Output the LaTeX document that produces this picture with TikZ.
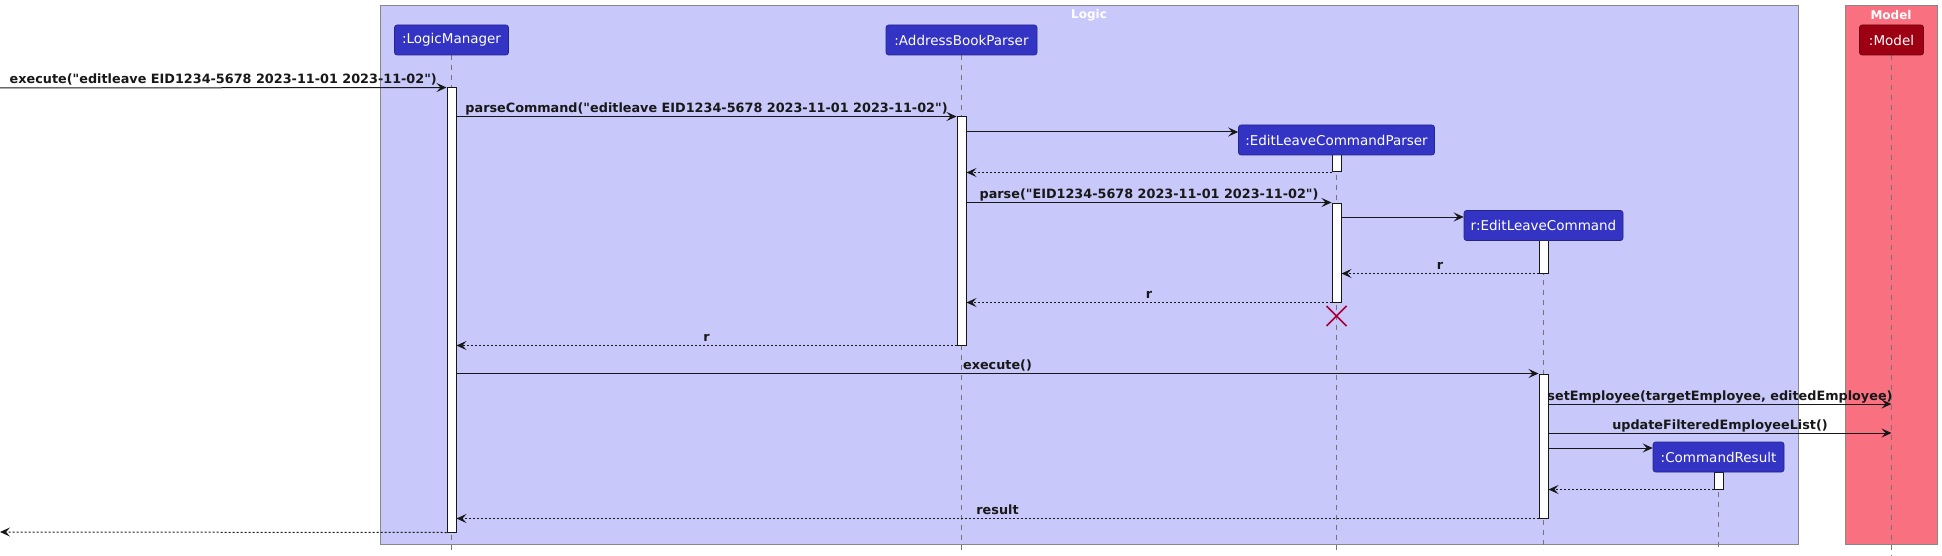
\documentclass[tikz,border=0pt]{standalone}
\usepackage{fontspec}
\setmainfont{DejaVu Sans}[Ligatures=TeXOff]
\usetikzlibrary{arrows.meta}
\definecolor{logicC}{HTML}{3333C4}
\definecolor{logicT}{HTML}{C8C8FA}
\definecolor{modelC}{HTML}{9D0012}
\definecolor{modelT}{HTML}{F97181}
\definecolor{ink}{HTML}{181818}
\definecolor{grp}{HTML}{888888}
\definecolor{xred}{HTML}{A80036}
\begin{document}
\begin{tikzpicture}[x=1pt,y=-1pt,
 grpbox/.style={draw=grp, line width=1pt, inner sep=0pt, minimum height=538pt},
 grptitle/.style={font=\bfseries\fontsize{12}{14}\selectfont, text=white, inner sep=0pt},
 headbox/.style={rounded corners=2.5pt, line width=0.6pt, text=white, font=\fontsize{13.5}{16}\selectfont, inner sep=0pt, minimum height=30pt},
 lhead/.style={headbox, fill=logicC, draw=logicC!70!black},
 mhead/.style={headbox, fill=modelC, draw=modelC!70!black},
 actbar/.style={draw=ink, fill=white, line width=1pt, minimum width=9pt, inner sep=0pt},
 life/.style={draw=ink!60, dash pattern=on 5pt off 5pt, line width=0.8pt},
 msg/.style={draw=ink, line width=1pt, -{Stealth[length=10pt,width=9pt,inset=4pt]}},
 ret/.style={msg, dash pattern=on 2pt off 2pt},
 lbl/.style={font=\bfseries\fontsize{12.8}{15}\selectfont, text=ink, anchor=base, yshift=4pt, inner sep=0pt},
]
\useasboundingbox (0,0) rectangle (1942,556);
% groups
\node[grpbox, fill=logicT, minimum width=1418pt] (logic) at (1089,275) {};
\node[grpbox, fill=modelT, minimum width=92pt] (modelG) at (1891,275) {};
\node[grptitle] (logicTitle) at (1089,15) {Logic};
\node[grptitle] (modelTitle) at (1891,15) {Model};
% participant heads (positions)
\coordinate (lmC) at (451.5,40);
\coordinate (abpC) at (961.5,40);
\coordinate (elcpC) at (1336.5,140);
\coordinate (elcC) at (1543.5,225.5);
\coordinate (crC) at (1718.5,457);
\coordinate (modelC) at (1891.5,40);
% lifelines
\draw[life] (451.5,55) -- (451.5,550);
\draw[life] (961.5,55) -- (961.5,550);
\draw[life] (1336.5,155) -- (1336.5,550);
\draw[life] (1543.5,240) -- (1543.5,550);
\draw[life] (1718.5,472) -- (1718.5,550);
\draw[life] (1891.5,55) -- (1891.5,556);
% activation bars
\node[actbar, minimum height=444pt] (lmA) at (451.5,310) {};
\node[actbar, minimum height=228pt] (abpA) at (961.5,231) {};
\node[actbar, minimum height=17pt] (pA1) at (1336.5,163.5) {};
\node[actbar, minimum height=99pt] (pA2) at (1336.5,252.5) {};
\node[actbar, minimum height=33pt] (elcA1) at (1543.5,256.5) {};
\node[actbar, minimum height=144pt] (elcA2) at (1543.5,446) {};
\node[actbar, minimum height=17pt] (crA) at (1718.5,480.5) {};
% heads
\node[lhead, minimum width=114pt] (lm) at (lmC) {:LogicManager};
\node[lhead, minimum width=151pt] (abp) at (abpC) {:AddressBookParser};
\node[lhead, minimum width=196pt] (elcp) at (elcpC) {:EditLeaveCommandParser};
\node[lhead, minimum width=159pt] (elc) at (elcC) {r:EditLeaveCommand};
\node[lhead, minimum width=131pt] (cr) at (crC) {:CommandResult};
\node[mhead, minimum width=64pt] (model) at (modelC) {:Model};
% messages
\coordinate (inL) at (0,88);
\coordinate (outL) at (0,532);
\draw[msg] (inL) -- (lmA.north west) node[lbl, midway] {execute("editleave EID1234-5678 2023-11-01 2023-11-02")};
\draw[msg] (lmA.east |- abpA.north) -- (abpA.north west) node[lbl, midway] {parseCommand("editleave EID1234-5678 2023-11-01 2023-11-02")};
\draw[msg] (abpA.east |- 0,132) -- (elcp.west |- 0,132);
\draw[ret] (pA1.south west) -- (abpA.east |- pA1.south);
\draw[msg] (abpA.east |- pA2.north) -- (pA2.north west) node[lbl, midway] {parse("EID1234-5678 2023-11-01 2023-11-02")};
\draw[msg] (pA2.east |- 0,217) -- (elc.west |- 0,217);
\draw[ret] (elcA1.south west) -- (pA2.east |- elcA1.south) node[lbl, midway] {r};
\draw[ret] (pA2.south west) -- (abpA.east |- pA2.south) node[lbl, midway] {r};
\draw[xred, line width=1.5pt] (1326.5,306) -- (1346.5,326) (1326.5,326) -- (1346.5,306);
\draw[ret] (abpA.south west) -- (lmA.east |- abpA.south) node[lbl, midway] {r};
\draw[msg] (lmA.east |- elcA2.north) -- (elcA2.north west) node[lbl, midway] {execute()};
\draw[msg] (elcA2.east |- 0,404) -- (model |- 0,404) node[lbl, midway] {setEmployee(targetEmployee, editedEmployee)};
\draw[msg] (elcA2.east |- 0,433) -- (model |- 0,433) node[lbl, midway] {updateFilteredEmployeeList()};
\draw[msg] (elcA2.east |- 0,448) -- (cr.west |- 0,448);
\draw[ret] (crA.south west) -- (elcA2.east |- crA.south);
\draw[ret] (elcA2.south west) -- (lmA.east |- elcA2.south) node[lbl, midway] {result};
\draw[ret] (lmA.south west) -- (outL);
\end{tikzpicture}
\end{document}
